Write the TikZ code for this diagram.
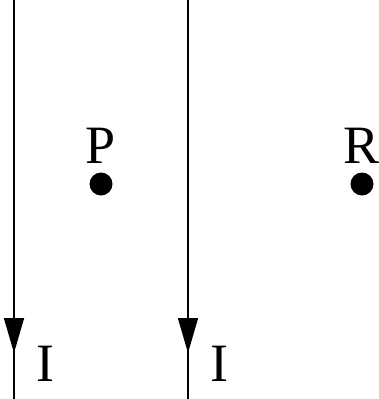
\documentclass[tikz,border=0pt]{standalone}
\usepackage{fontspec}
\setmainfont{Liberation Serif}
\usetikzlibrary{arrows.meta}
\tikzset{
  every picture/.style={line width=1.6pt},
  wire/.style={draw=black},
  current/.style={-{Triangle[length=35pt, width=20pt]}, draw=black},
  lbl/.style={font=\fontsize{54}{60}\selectfont, inner sep=0pt},
  spot/.style={circle, fill=black, inner sep=0pt, minimum size=23pt},
}
\begin{document}
\begin{tikzpicture}[x=1pt, y=-1pt]
  \useasboundingbox (0,0) rectangle (379,399);
  % two long straight wires, current flowing downwards
  \foreach \w/\x in {left/14, right/188} {
    \coordinate (\w top) at (\x,0);
    \coordinate (\w tip) at (\x,353);
    \coordinate (\w bot) at (\x,399);
    \draw[wire] (\w top) -- (\w bot);
    \draw[current] (\w top) -- (\w tip);
  }
  \node[lbl] (Ileft) at (45,364) {I};
  \node[lbl] (Iright) at (219,364) {I};
  % field points
  \node[spot] (P) at (101,184) {};
  \node[lbl] (Plbl) at (101,146) {P};
  \node[spot] (R) at (362,184) {};
  \node[lbl] (Rlbl) at (362,146) {R};
\end{tikzpicture}
\end{document}
